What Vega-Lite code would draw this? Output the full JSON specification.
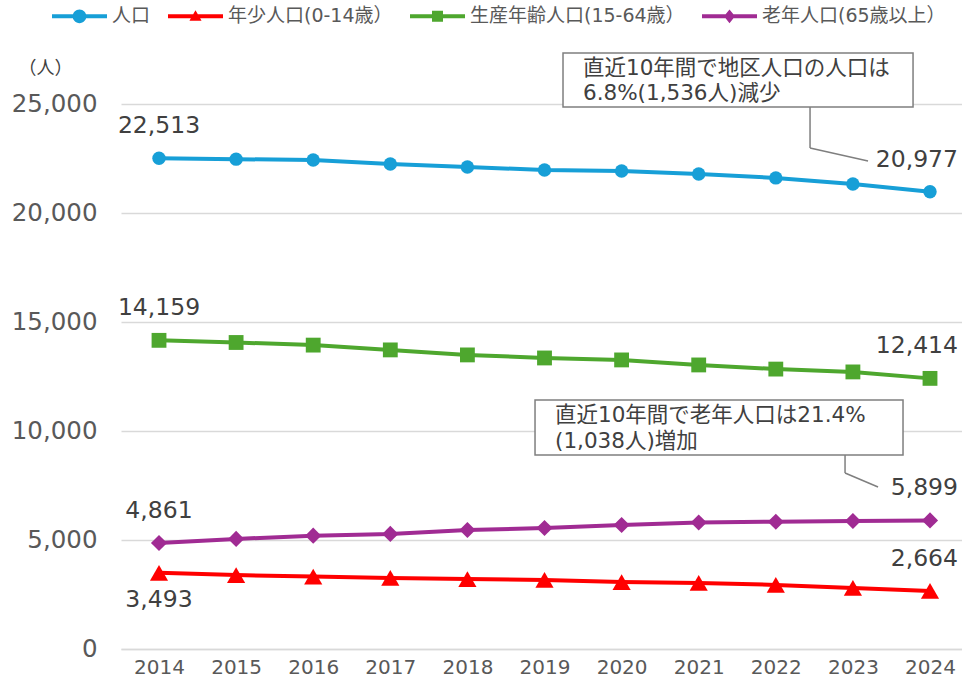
{
  "$schema": "https://vega.github.io/schema/vega-lite/v6.json",
  "width": 841,
  "height": 545,
  "autosize": {"type": "none"},
  "padding": {"left": 121, "top": 104, "right": 0, "bottom": 32},
  "background": "white",
  "config": {"view": {"stroke": null}, "font": "DejaVu Sans, Noto Sans CJK JP"},
  "datasets": {
    "pop": [
      {"year": 2014, "series": "人口", "value": 22513},
      {"year": 2015, "series": "人口", "value": 22470},
      {"year": 2016, "series": "人口", "value": 22430},
      {"year": 2017, "series": "人口", "value": 22250},
      {"year": 2018, "series": "人口", "value": 22110},
      {"year": 2019, "series": "人口", "value": 21970},
      {"year": 2020, "series": "人口", "value": 21930},
      {"year": 2021, "series": "人口", "value": 21790},
      {"year": 2022, "series": "人口", "value": 21610},
      {"year": 2023, "series": "人口", "value": 21330},
      {"year": 2024, "series": "人口", "value": 20977},
      {"year": 2014, "series": "年少人口(0-14歳）", "value": 3493},
      {"year": 2015, "series": "年少人口(0-14歳）", "value": 3390},
      {"year": 2016, "series": "年少人口(0-14歳）", "value": 3320},
      {"year": 2017, "series": "年少人口(0-14歳）", "value": 3260},
      {"year": 2018, "series": "年少人口(0-14歳）", "value": 3210},
      {"year": 2019, "series": "年少人口(0-14歳）", "value": 3170},
      {"year": 2020, "series": "年少人口(0-14歳）", "value": 3070},
      {"year": 2021, "series": "年少人口(0-14歳）", "value": 3030},
      {"year": 2022, "series": "年少人口(0-14歳）", "value": 2940},
      {"year": 2023, "series": "年少人口(0-14歳）", "value": 2800},
      {"year": 2024, "series": "年少人口(0-14歳）", "value": 2664},
      {"year": 2014, "series": "生産年齢人口(15-64歳）", "value": 14159},
      {"year": 2015, "series": "生産年齢人口(15-64歳）", "value": 14060},
      {"year": 2016, "series": "生産年齢人口(15-64歳）", "value": 13940},
      {"year": 2017, "series": "生産年齢人口(15-64歳）", "value": 13720},
      {"year": 2018, "series": "生産年齢人口(15-64歳）", "value": 13490},
      {"year": 2019, "series": "生産年齢人口(15-64歳）", "value": 13350},
      {"year": 2020, "series": "生産年齢人口(15-64歳）", "value": 13260},
      {"year": 2021, "series": "生産年齢人口(15-64歳）", "value": 13030},
      {"year": 2022, "series": "生産年齢人口(15-64歳）", "value": 12840},
      {"year": 2023, "series": "生産年齢人口(15-64歳）", "value": 12710},
      {"year": 2024, "series": "生産年齢人口(15-64歳）", "value": 12414},
      {"year": 2014, "series": "老年人口(65歳以上）", "value": 4861},
      {"year": 2015, "series": "老年人口(65歳以上）", "value": 5050},
      {"year": 2016, "series": "老年人口(65歳以上）", "value": 5200},
      {"year": 2017, "series": "老年人口(65歳以上）", "value": 5280},
      {"year": 2018, "series": "老年人口(65歳以上）", "value": 5460},
      {"year": 2019, "series": "老年人口(65歳以上）", "value": 5550},
      {"year": 2020, "series": "老年人口(65歳以上）", "value": 5690},
      {"year": 2021, "series": "老年人口(65歳以上）", "value": 5800},
      {"year": 2022, "series": "老年人口(65歳以上）", "value": 5840},
      {"year": 2023, "series": "老年人口(65歳以上）", "value": 5870},
      {"year": 2024, "series": "老年人口(65歳以上）", "value": 5899}
    ]
  },
  "layer": [
    {
      "data": {"name": "pop"},
      "mark": {"type": "line", "strokeWidth": 4},
      "encoding": {
        "x": {
          "field": "year", "type": "quantitative",
          "scale": {"domain": [2013.507, 2024.415], "nice": false, "zero": false},
          "axis": {
            "values": [2014, 2015, 2016, 2017, 2018, 2019, 2020, 2021, 2022, 2023, 2024],
            "format": "d", "title": null, "grid": false, "ticks": false,
            "labelFontSize": 20, "labelColor": "#595959", "labelPadding": 8,
            "labelFlush": false, "domainColor": "#D9D9D9", "domainWidth": 1.5
          }
        },
        "y": {
          "field": "value", "type": "quantitative",
          "scale": {"domain": [0, 25000], "nice": false},
          "axis": {
            "values": [0, 5000, 10000, 15000, 20000, 25000],
            "format": ",d", "domain": false, "ticks": false,
            "grid": true, "gridColor": "#D9D9D9", "gridWidth": 1.5,
            "labelFontSize": 24.5, "labelColor": "#595959", "labelPadding": 24,
            "title": "（人）", "titleAngle": 0, "titleX": -76, "titleY": -36,
            "titleAlign": "center", "titleBaseline": "middle", "titleFontSize": 18,
            "titleFontWeight": "normal", "titleColor": "#404040"
          }
        },
        "color": {
          "field": "series", "type": "nominal",
          "scale": {
            "domain": ["人口", "年少人口(0-14歳）", "生産年齢人口(15-64歳）", "老年人口(65歳以上）"],
            "range": ["#179FD7", "#FF0000", "#4EA72E", "#A02B93"]
          },
          "legend": {
            "orient": "none", "legendX": -69, "legendY": -115.5, "direction": "horizontal",
            "title": null, "symbolSize": 3025, "symbolStrokeWidth": 0, "symbolType": "circle",
            "labelFontSize": 19, "labelColor": "#595959", "labelOffset": 5, "labelLimit": 0,
            "columnPadding": 17, "padding": 0,
            "encode": {
              "symbols": {
                "update": {
                  "shape": {"signal": "datum.value === '人口' ? 'M-1,-0.075H1V0.075H-1Z M0.25,0A0.25,0.25 0 1 1 -0.25,0A0.25,0.25 0 1 1 0.25,0Z' : datum.value === '年少人口(0-14歳）' ? 'M-1,-0.075H1V0.075H-1Z M0,-0.22L0.22,0.16L-0.22,0.16Z' : datum.value === '生産年齢人口(15-64歳）' ? 'M-1,-0.075H1V0.075H-1Z M-0.2,-0.2H0.2V0.2H-0.2Z' : 'M-1,-0.075H1V0.075H-1Z M0,-0.25L0.2,0L0,0.25L-0.2,0Z'"},
                  "size": {"value": 3025},
                  "fill": {"scale": "color", "field": "value"},
                  "strokeWidth": {"value": 0},
                  "opacity": {"value": 1}
                }
              }
            }
          }
        }
      }
    },
    {
      "data": {"name": "pop"},
      "transform": [{"filter": "datum.series === '人口'"}],
      "mark": {"type": "point", "filled": true, "opacity": 1, "shape": "circle", "size": 180},
      "encoding": {
        "x": {"field": "year", "type": "quantitative"},
        "y": {"field": "value", "type": "quantitative"},
        "color": {"field": "series", "type": "nominal"}
      }
    },
    {
      "data": {"name": "pop"},
      "transform": [{"filter": "datum.series === '年少人口(0-14歳）'"}],
      "mark": {"type": "point", "filled": true, "opacity": 1, "shape": "triangle-up", "size": 330},
      "encoding": {
        "x": {"field": "year", "type": "quantitative"},
        "y": {"field": "value", "type": "quantitative"},
        "color": {"field": "series", "type": "nominal"}
      }
    },
    {
      "data": {"name": "pop"},
      "transform": [{"filter": "datum.series === '生産年齢人口(15-64歳）'"}],
      "mark": {"type": "point", "filled": true, "opacity": 1, "shape": "square", "size": 220},
      "encoding": {
        "x": {"field": "year", "type": "quantitative"},
        "y": {"field": "value", "type": "quantitative"},
        "color": {"field": "series", "type": "nominal"}
      }
    },
    {
      "data": {"name": "pop"},
      "transform": [{"filter": "datum.series === '老年人口(65歳以上）'"}],
      "mark": {"type": "point", "filled": true, "opacity": 1, "shape": "diamond", "size": 260},
      "encoding": {
        "x": {"field": "year", "type": "quantitative"},
        "y": {"field": "value", "type": "quantitative"},
        "color": {"field": "series", "type": "nominal"}
      }
    },
    {
      "data": {"name": "pop"},
      "transform": [{"filter": "datum.year === 2014 && datum.series !== '年少人口(0-14歳）'"}],
      "mark": {"type": "text", "fontSize": 23.5, "color": "#404040", "align": "center", "baseline": "middle", "dy": -32},
      "encoding": {
        "x": {"field": "year", "type": "quantitative"},
        "y": {"field": "value", "type": "quantitative"},
        "text": {"field": "value", "type": "quantitative", "format": ",d"}
      }
    },
    {
      "data": {"name": "pop"},
      "transform": [{"filter": "datum.year === 2014 && datum.series === '年少人口(0-14歳）'"}],
      "mark": {"type": "text", "fontSize": 23.5, "color": "#404040", "align": "center", "baseline": "middle", "dy": 27},
      "encoding": {
        "x": {"field": "year", "type": "quantitative"},
        "y": {"field": "value", "type": "quantitative"},
        "text": {"field": "value", "type": "quantitative", "format": ",d"}
      }
    },
    {
      "data": {"name": "pop"},
      "transform": [{"filter": "datum.year === 2024"}],
      "mark": {"type": "text", "fontSize": 23.5, "color": "#404040", "align": "right", "baseline": "middle", "dy": -32, "dx": 28},
      "encoding": {
        "x": {"field": "year", "type": "quantitative"},
        "y": {"field": "value", "type": "quantitative"},
        "text": {"field": "value", "type": "quantitative", "format": ",d"}
      }
    },
    {
      "data": {"values": [{}]},
      "mark": {"type": "rule", "color": "#7F7F7F", "strokeWidth": 1.5},
      "encoding": {
        "x": {"datum": 2022.444}, "x2": {"datum": 2022.444},
        "y": {"datum": 24862}, "y2": {"datum": 22982}
      }
    },
    {
      "data": {"values": [{}]},
      "mark": {"type": "rule", "color": "#7F7F7F", "strokeWidth": 1.5},
      "encoding": {
        "x": {"datum": 2022.444}, "x2": {"datum": 2023.196},
        "y": {"datum": 22982}, "y2": {"datum": 22385}
      }
    },
    {
      "data": {"values": [{}]},
      "mark": {"type": "rule", "color": "#7F7F7F", "strokeWidth": 1.5},
      "encoding": {
        "x": {"datum": 2022.898}, "x2": {"datum": 2022.898},
        "y": {"datum": 8899}, "y2": {"datum": 8073}
      }
    },
    {
      "data": {"values": [{}]},
      "mark": {"type": "rule", "color": "#7F7F7F", "strokeWidth": 1.5},
      "encoding": {
        "x": {"datum": 2022.898}, "x2": {"datum": 2023.326},
        "y": {"datum": 8073}, "y2": {"datum": 7431}
      }
    },
    {
      "data": {"values": [{}]},
      "mark": {"type": "rect", "fill": "white", "stroke": "#7F7F7F", "strokeWidth": 1.5},
      "encoding": {
        "x": {"datum": 2019.24}, "x2": {"datum": 2023.78},
        "y": {"datum": 27339}, "y2": {"datum": 24862}
      }
    },
    {
      "data": {"values": [{}]},
      "mark": {"type": "rect", "fill": "white", "stroke": "#7F7F7F", "strokeWidth": 1.5},
      "encoding": {
        "x": {"datum": 2018.877}, "x2": {"datum": 2023.65},
        "y": {"datum": 11422}, "y2": {"datum": 8899}
      }
    },
    {
      "data": {"values": [{}]},
      "mark": {"type": "text", "text": ["直近10年間で地区人口の人口は", "6.8%(1,536人)減少"], "align": "left", "baseline": "middle", "fontSize": 21.5, "lineHeight": 25, "color": "#404040"},
      "encoding": {
        "x": {"datum": 2019.499},
        "y": {"datum": 26606}
      }
    },
    {
      "data": {"values": [{}]},
      "mark": {"type": "text", "text": ["直近10年間で老年人口は21.4%", "(1,038人)増加"], "align": "left", "baseline": "middle", "fontSize": 21.5, "lineHeight": 26, "color": "#404040"},
      "encoding": {
        "x": {"datum": 2019.136},
        "y": {"datum": 10688}
      }
    }
  ]
}
